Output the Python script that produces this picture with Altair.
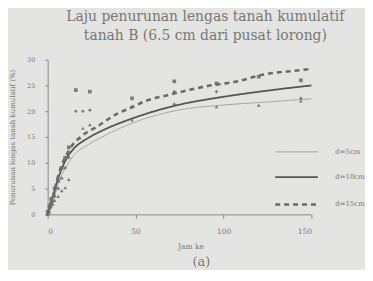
import altair as alt
import pandas as pd

series = ["d=5cm", "d=10cm", "d=15cm"]

# measured points (hours, cumulative moisture decrease %)
t_d5 = [0, 1, 2, 3, 4, 6, 8, 10, 12, 18, 20, 24, 48, 72, 96, 120, 144]
y_d5 = [0, 0.5, 1.5, 2, 2.7, 3.5, 4.6, 5.2, 6.8, 14.8, 16.7, 17.4, 18.3, 21.5, 20.9, 21.2, 22]
t_d10 = [0, 1, 2, 3, 4, 6, 8, 10, 12, 16, 20, 24, 48, 72, 96, 144]
y_d10 = [0, 1, 2, 2.5, 3.5, 5, 7, 9, 11, 20, 20, 20.2, 20.9, 23.8, 23.8, 22.5]
t_d15 = [0, 1, 2, 4, 6, 8, 10, 12, 16, 24, 48, 72, 96, 120, 144]
y_d15 = [0.5, 1.5, 3, 5, 6.5, 9, 11, 13, 24.1, 23.8, 22.5, 25.8, 25.4, 26.7, 26]

# trend curves
ct_d5 = [0, 3, 6, 11, 15, 23, 32, 49, 74, 100, 125, 150]
cy_d5 = [0, 2.5, 6, 9.5, 11.5, 13.5, 15.2, 17.8, 20.2, 21.2, 21.8, 22.4]
ct_d10 = [0, 1, 3, 6, 11, 15, 23, 32, 49, 74, 100, 125, 150]
cy_d10 = [0, 1.5, 3.5, 7, 11, 12.8, 14.8, 16.4, 18.7, 21.2, 22.8, 24, 25]
ct_d15 = [0, 3, 6, 13, 19, 28, 40, 49, 55, 68, 80, 91, 101, 108, 121, 142, 150]
cy_d15 = [0, 3.5, 7.5, 12.9, 15.1, 17, 19.6, 20.9, 21.9, 23.1, 24.1, 24.9, 25.4, 25.8, 27, 27.9, 28.2]

x_ticks = [0, 50, 100, 150]
y_ticks = [0, 5, 10, 15, 20, 25, 30]

pts = pd.concat([
    pd.DataFrame({"t": t_d5, "y": y_d5, "s": series[0]}),
    pd.DataFrame({"t": t_d10, "y": y_d10, "s": series[1]}),
    pd.DataFrame({"t": t_d15, "y": y_d15, "s": series[2]}),
])
curves = pd.concat([
    pd.DataFrame({"t": ct_d5, "y": cy_d5, "s": series[0]}),
    pd.DataFrame({"t": ct_d10, "y": cy_d10, "s": series[1]}),
    pd.DataFrame({"t": ct_d15, "y": cy_d15, "s": series[2]}),
])

FONT = "DejaVu Serif"
TXT = "#777777"

x = alt.X("t:Q", scale=alt.Scale(domain=[0, 150], nice=False),
          axis=alt.Axis(values=x_ticks, title="Jam ke", grid=False, labelFontSize=7.5,
                        titleFontSize=7.5, labelPadding=9, tickSize=4, titlePadding=8,
                        titleX=144, domainColor="#8a8a8a", tickColor="#8a8a8a", labelColor=TXT,
                        titleColor=TXT, labelFont=FONT, titleFont=FONT, titleFontWeight="normal"))
y = alt.Y("y:Q", scale=alt.Scale(domain=[0, 30], nice=False),
          axis=alt.Axis(values=y_ticks, title="Penurunan lengas tanah kumulatif (%)", grid=False,
                        labelFontSize=6.5, titleFontSize=7, labelPadding=10, tickSize=3,
                        titlePadding=11, domainColor="#8a8a8a", tickColor="#8a8a8a",
                        labelColor=TXT, titleColor=TXT, labelFont=FONT, titleFont=FONT,
                        titleFontWeight="normal"))

lines = alt.Chart(curves).mark_line(interpolate="monotone").encode(
    x=x, y=y,
    color=alt.Color("s:N", sort=series, title=None,
                    scale=alt.Scale(domain=series, range=["#a0a0a0", "#555555", "#6a6a6a"])),
    strokeDash=alt.StrokeDash("s:N", sort=series, title=None,
                              scale=alt.Scale(domain=series, range=[[1, 0], [1, 0], [5, 4]])),
    strokeWidth=alt.StrokeWidth("s:N", sort=series, title=None,
                                scale=alt.Scale(domain=series, range=[1, 2.6, 1.6])),
)

points = alt.Chart(pts).mark_point(filled=True, size=14, color="#6a6a6a", opacity=0.85).encode(
    x=x, y=y,
    shape=alt.Shape("s:N", sort=series, legend=None,
                    scale=alt.Scale(domain=series, range=["triangle-up", "diamond", "square"])),
)

caption = alt.Chart(pd.DataFrame({"c": ["(a)"]})).mark_text(
    font=FONT, fontSize=13, color=TXT
).encode(text="c:N", x=alt.value(155), y=alt.value(204))

chart = alt.layer(lines, points, caption).properties(
    width=266, height=156,
    title=alt.TitleParams(["Laju penurunan lengas tanah kumulatif", "tanah B (6.5 cm dari pusat lorong)"],
                          font=FONT, fontSize=14, fontWeight="normal", color=TXT,
                          anchor="middle", dx=26, lineHeight=19, offset=14),
    padding={"left": 0, "top": 1, "right": 0, "bottom": 0},
).resolve_scale(shape="independent").configure(background="#e4e4e2").configure_view(
    stroke=None
).configure_legend(
    orient="none", legendX=228, legendY=71, symbolType="stroke", symbolSize=1849,
    labelFont=FONT, labelFontSize=7, labelColor=TXT, rowPadding=-25, labelOffset=16,
    symbolStrokeColor="#555"
)

chart.save("out.html", embed_options={"renderer": "svg", "actions": False})
